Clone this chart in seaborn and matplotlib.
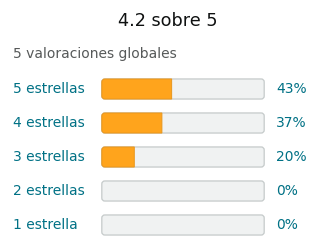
import matplotlib
matplotlib.use("Agg")
import matplotlib.pyplot as plt
import seaborn as sns
import pandas as pd
from matplotlib.patches import FancyBboxPatch, PathPatch
from matplotlib.path import Path
from matplotlib.transforms import blended_transform_factory

title = "4.2 sobre 5"
subtitle = "5 valoraciones globales"
categories = ["5 estrellas", "4 estrellas", "3 estrellas", "2 estrellas", "1 estrella"]
percents = [43, 37, 20, 0, 0]
full = [100, 100, 100, 100, 100]

sns.set_theme(style="white")
plt.rcParams['font.family'] = ['DejaVu Sans']

df = pd.DataFrame({"cat": categories, "pct": percents, "full": full})

W, H = 320, 252
fig = plt.figure(figsize=(W / 100, H / 100), dpi=100)
fig.patch.set_facecolor("white")
ax = fig.add_axes([101 / W, 1 - 242 / H, 164 / W, 170 / H])

sns.barplot(data=df, y="cat", x="full", orient="h", color="#F0F2F2", width=0.59,
            edgecolor="#C5CACA", linewidth=0.9, saturation=1, ax=ax)
n_bg = len(ax.patches)
sns.barplot(data=df, y="cat", x="pct", orient="h", color="#FFA41C", width=0.59,
            edgecolor="#E8961C", linewidth=0.7, saturation=1, ax=ax)

ax.set_xlim(-0.5, 100.5)
ax.set_ylim(4.5, -0.5)
ax.axis("off")

# rounded corners
px_per_x = 164 / 101.0
px_per_y = 170 / 5.0
aspect = px_per_x / px_per_y
rx = 3.0 / px_per_x
ry = 3.0 / px_per_y
for k, p in enumerate(list(ax.patches)):
    x, y = p.get_x(), p.get_y()
    w, h = p.get_width(), p.get_height()
    fc, ec, lw, z = p.get_facecolor(), p.get_edgecolor(), p.get_linewidth(), p.get_zorder()
    p.remove()
    if w <= 0:
        continue
    if k < n_bg:
        new = FancyBboxPatch((x, y), w, h,
                             boxstyle=f"round,pad=0,rounding_size={rx}",
                             mutation_aspect=aspect,
                             facecolor=fc, edgecolor=ec, linewidth=lw, zorder=z)
    else:
        verts = [(x + rx, y), (x + w, y), (x + w, y + h), (x + rx, y + h),
                 (x, y + h), (x, y + h - ry), (x, y + ry), (x, y), (x + rx, y),
                 (x + rx, y)]
        codes = [Path.MOVETO, Path.LINETO, Path.LINETO, Path.LINETO,
                 Path.CURVE3, Path.CURVE3, Path.LINETO, Path.CURVE3, Path.CURVE3,
                 Path.CLOSEPOLY]
        new = PathPatch(Path(verts, codes), facecolor=fc, edgecolor=ec,
                        linewidth=lw, zorder=z + 0.1)
    ax.add_patch(new)

tr = blended_transform_factory(fig.transFigure, ax.transData)
for i, (c, v) in enumerate(zip(categories, percents)):
    ax.text(13 / W, i, c, transform=tr, ha="left", va="center",
            fontsize=10, color="#007185")
    ax.text(276 / W, i, f"{v}%", transform=tr, ha="left", va="center",
            fontsize=10, color="#007185")

fig.text(168 / W, 1 - 21 / H, title, ha="center", va="center", fontsize=12.7, color="#0F1111")
fig.text(13 / W, 1 - 54 / H, subtitle, ha="left", va="center", fontsize=10, color="#565959")

fig.savefig("out.png", dpi=100)
